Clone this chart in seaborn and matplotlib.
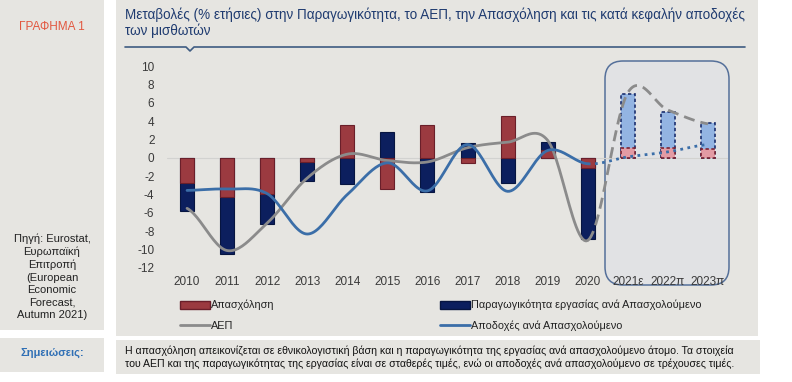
import numpy as np
import matplotlib
matplotlib.use("Agg")
import matplotlib.pyplot as plt
from matplotlib.patches import Rectangle, FancyBboxPatch, Patch
from matplotlib.lines import Line2D
import seaborn as sns

# Data (% yearly change)
years = ['2010', '2011', '2012', '2013', '2014', '2015', '2016', '2017',
         '2018', '2019', '2020', '2021ε', '2022π', '2023π']
employment = [-2.7, -4.3, -3.9, -0.5, 3.6, -3.45, 3.55, -0.55, 4.55, 0.85, -1.1, 1.1, 1.1, 1.0]
productivity = [-3.1, -6.15, -3.35, -2.0, -2.9, 2.8, -3.7, 1.6, -2.75, 0.85, -7.75, 5.8, 3.9, 2.75]
gdp = [-5.5, -10.1, -7.1, -2.2, 0.4, -0.3, -0.45, 1.1, 1.7, 1.9, -9.0, 7.1, 5.2, 3.7]
wages = [-3.55, -3.4, -3.9, -8.3, -4.0, -0.55, -3.6, 1.45, -3.65, 0.8, -0.65, 0.1, 0.65, 1.45]
n_forecast = 3
yticks = list(range(-12, 11, 2))

title = ("Μεταβολές (% ετήσιες) στην Παραγωγικότητα, το ΑΕΠ, την Απασχόληση και τις κατά κεφαλήν αποδοχές\n"
         "των μισθωτών")
source = "Πηγή: Eurostat,\nΕυρωπαϊκή\nΕπιτροπή\n(European\nEconomic\nForecast,\nAutumn 2021)"
notes = ("Η απασχόληση απεικονίζεται σε εθνικολογιστική βάση και η παραγωγικότητα της εργασίας ανά απασχολούμενο άτομο. Τα στοιχεία\n"
         "του ΑΕΠ και της παραγωγικότητας της εργασίας είναι σε σταθερές τιμές, ενώ οι αποδοχές ανά απασχολούμενο σε τρέχουσες τιμές.")

sns.set_style("white")
plt.rcParams['font.family'] = ['Liberation Sans', 'DejaVu Sans']
plt.rcParams['axes.unicode_minus'] = False

W, H = 792, 382
BG = '#e6e5e1'
RED, RED_E = '#9b3a40', '#6a1f2a'
NAVY, NAVY_E = '#0c1f5e', '#071540'
LBLUE, PINK = '#93b4e2', '#e39ba4'
GRAY, BLUE = '#8b8b8b', '#3b6ea8'

fig = plt.figure(figsize=(W / 100, H / 100), dpi=100, facecolor='white')


def px_rect(x0, y0, x1, y1, **kw):
    # rectangle given in pixel coords (top-left origin)
    return Rectangle((x0 / 100, (H - y1) / 100), (x1 - x0) / 100, (y1 - y0) / 100,
                     transform=fig.dpi_scale_trans, zorder=-2, **kw)


# background panels
fig.add_artist(px_rect(0, 0, 104, 330, facecolor=BG, edgecolor='none'))
fig.add_artist(px_rect(116, 0, 758, 336, facecolor=BG, edgecolor='none'))
fig.add_artist(px_rect(0, 338, 104, 372, facecolor=BG, edgecolor='none'))
fig.add_artist(px_rect(116, 340, 760, 374, facecolor=BG, edgecolor='none'))

fig.text(52 / W, 1 - 27 / H, "ΓΡΑΦΗΜΑ 1", color='#e2573f', fontsize=8.5, ha='center', va='center')
fig.text(125 / W, 1 - 7 / H, title, color='#1f3b70', fontsize=9.75, ha='left', va='top', linespacing=1.2)
fig.text(52 / W, 1 - 277 / H, source, color='#222222', fontsize=8, ha='center', va='center', linespacing=1.3)
fig.text(52 / W, 1 - 353 / H, "Σημειώσεις:", color='#2f6fb5', fontsize=8, fontweight='bold',
         ha='center', va='center')
fig.text(125 / W, 1 - 357 / H, notes, color='#111111', fontsize=7.6, ha='left', va='center', linespacing=1.35)

# title underline with a small notch
ux = np.array([125, 186, 190, 194, 745]) / W
uy = 1 - np.array([47, 47, 51, 47, 47]) / H
fig.add_artist(Line2D(ux, uy, color='#3f5c82', lw=1.2, transform=fig.transFigure))

# forecast box
fig.add_artist(FancyBboxPatch((6.05, (H - 285) / 100), 1.24, 2.24,
                              boxstyle="round,pad=0,rounding_size=0.18",
                              facecolor='#e1e2e4', edgecolor='#55709a', lw=1.1,
                              transform=fig.dpi_scale_trans, zorder=-1))

ax = fig.add_axes([167 / W, (H - 268) / H, 561 / W, 202 / H])
ax.patch.set_visible(False)

n = len(years)
hist = n - n_forecast
# navy bar length: stacked on employment when both have same sign
navy_len = [e + p if e * p > 0 else p for e, p in zip(employment, productivity)]
navy_pal = {y: (NAVY if i < hist else LBLUE) for i, y in enumerate(years)}
red_pal = {y: (RED if i < hist else PINK) for i, y in enumerate(years)}

ax.axhline(0, color='#d2d2d0', lw=0.8, zorder=1)

k0 = len(ax.patches)
sns.barplot(x=years, y=navy_len, hue=years, palette=navy_pal, legend=False, width=0.35,
            saturation=1, errorbar=None, ax=ax, zorder=2)
k1 = len(ax.patches)
sns.barplot(x=years, y=employment, hue=years, palette=red_pal, legend=False, width=0.35,
            saturation=1, errorbar=None, ax=ax, zorder=3)
k2 = len(ax.patches)

for group, (edge_h, edge_f) in [(ax.patches[k0:k1], (NAVY_E, '#1b2f6e')),
                                (ax.patches[k1:k2], (RED_E, '#7a2434'))]:
    for p in group:
        i = int(round(p.get_x() + p.get_width() / 2))
        if i < hist:
            p.set_edgecolor(edge_h)
            p.set_linewidth(0.8)
        else:
            p.set_edgecolor(edge_f)
            p.set_linestyle((0, (2, 1.5)))
            p.set_linewidth(1.2)


def smooth(vals, steps=24):
    # Catmull-Rom curve through the points, like a smoothed spreadsheet line
    v = np.asarray(vals, float)
    pts = np.concatenate([[v[0]], v, [v[-1]]])
    xs, ys = [], []
    for i in range(len(v) - 1):
        p0, p1, p2, p3 = pts[i], pts[i + 1], pts[i + 2], pts[i + 3]
        t = np.linspace(0, 1, steps, endpoint=False)
        m1, m2 = (p2 - p0) / 2, (p3 - p1) / 2
        h00 = 2 * t**3 - 3 * t**2 + 1
        h10 = t**3 - 2 * t**2 + t
        h01 = -2 * t**3 + 3 * t**2
        h11 = t**3 - t**2
        xs.append(i + t)
        ys.append(h00 * p1 + h10 * m1 + h01 * p2 + h11 * m2)
    xs.append([len(v) - 1])
    ys.append([v[-1]])
    return np.concatenate(xs), np.concatenate(ys)


split = (hist - 1) * 24 + 1
for vals, col, ls in [(gdp, GRAY, (0, (4, 2.2))), (wages, BLUE, (0, (1, 1.6)))]:
    sx, sy = smooth(vals)
    ax.plot(sx[:split], sy[:split], color=col, lw=2, zorder=4, solid_capstyle='round')
    ax.plot(sx[split - 1:], sy[split - 1:], color=col, lw=2, ls=ls, zorder=4)

ax.set_xlim(-0.5, n - 0.5)
ax.set_ylim(-12, 10)
ax.set_yticks(yticks)
ax.set_xlabel('')
ax.set_ylabel('')
for s in ax.spines.values():
    s.set_visible(False)
ax.tick_params(length=0, labelsize=8.5, labelcolor='#3a3a3a')
ax.tick_params(axis='y', pad=9)
ax.tick_params(axis='x', pad=6)

# legend in two columns
h1 = [Patch(facecolor=RED, edgecolor=RED_E), Line2D([], [], color=GRAY, lw=2)]
h2 = [Patch(facecolor=NAVY, edgecolor=NAVY_E), Line2D([], [], color=BLUE, lw=2)]
kw = dict(frameon=False, fontsize=7.8, handlelength=2.8, handleheight=0.8, handletextpad=0.05,
          labelspacing=0.95, borderpad=0, borderaxespad=0, labelcolor='#222222')
fig.legend(h1, ['Απασχόληση', 'ΑΕΠ'], loc='upper left',
           bbox_to_anchor=(180 / W, 1 - 300 / H), **kw)
fig.legend(h2, ['Παραγωγικότητα εργασίας ανά Απασχολούμενο', 'Αποδοχές ανά Απασχολούμενο'],
           loc='upper left', bbox_to_anchor=(440 / W, 1 - 300 / H), **kw)

fig.savefig('out.png', dpi=100, facecolor='white')
